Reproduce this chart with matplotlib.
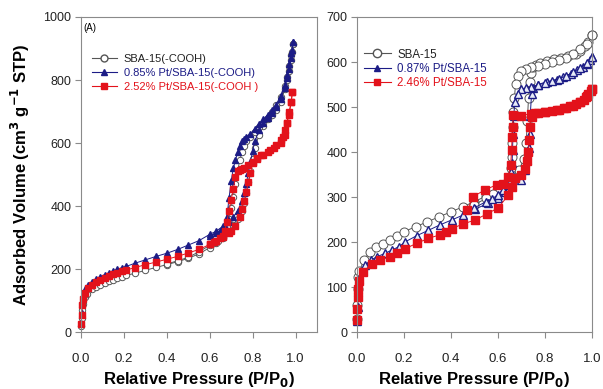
import numpy as np
import matplotlib
matplotlib.use('Agg')
import matplotlib.pyplot as plt
from matplotlib.lines import Line2D

plt.rcParams['font.family'] = ['Liberation Sans', 'DejaVu Sans']

# panel A : SBA-15(-COOH) series
a_circ_ads_x = [0.001,0.003,0.006,0.01,0.02,0.03,0.05,0.07,0.09,0.11,0.13,0.15,0.17,0.19,0.21,0.25,0.30,0.35,0.40,0.45,0.50,0.55,0.60,0.63,0.66,0.69,0.71,0.73,0.75,0.76,0.77,0.78,0.79,0.80,0.81,0.83,0.85,0.87,0.89,0.91,0.93,0.95,0.96,0.97,0.98,0.985,0.99]
a_circ_ads_y = [20,45,70,90,110,122,135,143,150,156,161,166,171,176,180,186,196,205,214,223,234,248,268,283,300,322,340,360,385,410,440,475,510,550,585,625,655,675,690,705,730,770,800,830,865,890,915]
a_circ_des_x = [0.99,0.98,0.97,0.96,0.95,0.93,0.91,0.89,0.87,0.85,0.83,0.81,0.79,0.77,0.76,0.75,0.74,0.73,0.72,0.71,0.70,0.69,0.68,0.67,0.66,0.64,0.62,0.60,0.55,0.50,0.45,0.40]
a_circ_des_y = [915,880,845,810,780,745,720,700,680,665,650,635,620,605,590,570,545,510,470,430,395,360,335,315,302,290,282,275,255,237,226,216]

a_tri_ads_x = [0.001,0.003,0.006,0.01,0.02,0.034,0.05,0.07,0.09,0.11,0.13,0.15,0.17,0.19,0.21,0.25,0.30,0.35,0.40,0.45,0.50,0.55,0.60,0.63,0.66,0.69,0.71,0.73,0.75,0.76,0.77,0.78,0.79,0.80,0.81,0.83,0.85,0.87,0.89,0.91,0.93,0.95,0.96,0.97,0.98,0.985,0.99]
a_tri_ads_y = [30,60,90,115,135,149,160,168,176,182,188,194,199,204,208,218,229,240,250,262,276,290,310,320,335,350,365,385,415,440,470,505,540,575,605,640,665,680,695,715,740,775,805,835,870,895,920]
a_tri_des_x = [0.99,0.98,0.97,0.96,0.95,0.93,0.91,0.89,0.87,0.85,0.83,0.81,0.79,0.77,0.76,0.75,0.74,0.73,0.72,0.71,0.70,0.69,0.68,0.67,0.65,0.63,0.60]
a_tri_des_y = [920,885,850,815,785,750,722,705,690,675,660,645,630,618,612,605,590,570,545,520,480,425,365,335,322,314,306]

a_sq_ads_x = [0.001,0.003,0.006,0.01,0.02,0.034,0.05,0.07,0.09,0.11,0.13,0.15,0.17,0.19,0.21,0.25,0.30,0.35,0.40,0.45,0.50,0.55,0.60,0.63,0.66,0.69,0.70,0.72,0.74,0.75,0.76,0.77,0.78,0.79,0.80,0.82,0.85,0.88,0.91,0.93,0.94,0.95,0.96,0.97,0.98,0.985]
a_sq_ads_y = [25,55,85,105,125,140,150,158,166,172,178,183,188,193,197,204,214,222,231,240,251,262,278,290,302,315,322,335,365,390,415,445,475,505,535,550,562,578,595,608,618,640,665,690,730,763]
a_sq_des_x = [0.985,0.98,0.97,0.96,0.95,0.93,0.90,0.87,0.84,0.82,0.80,0.78,0.76,0.75,0.74,0.73,0.72,0.71,0.70,0.69,0.68,0.67,0.66,0.65,0.62,0.60]
a_sq_des_y = [763,730,700,665,625,600,585,573,562,552,540,530,522,518,514,512,492,455,420,385,350,322,306,298,285,278]

# panel B : SBA-15 series
b_circ_ads_x = [0.001,0.002,0.004,0.006,0.01,0.03,0.055,0.08,0.11,0.14,0.17,0.20,0.25,0.30,0.35,0.40,0.45,0.50,0.55,0.60,0.65,0.69,0.71,0.72,0.725,0.73,0.735,0.74,0.75,0.76,0.78,0.81,0.84,0.87,0.90,0.93,0.95,0.97,0.985,1.0]
b_circ_ads_y = [30,60,95,123,135,160,178,188,196,205,214,223,234,245,256,267,278,290,302,318,338,360,385,420,470,520,555,575,588,594,598,602,606,609,613,618,625,635,645,660]
b_circ_des_x = [1.0,0.98,0.95,0.92,0.89,0.86,0.83,0.80,0.77,0.74,0.72,0.70,0.685,0.675,0.67,0.665,0.662,0.66,0.658,0.655,0.645,0.63,0.61,0.58,0.55,0.50]
b_circ_des_y = [660,640,628,617,610,605,600,596,592,588,585,580,570,552,520,490,455,420,390,365,345,330,318,306,297,283]

b_tri_ads_x = [0.001,0.003,0.006,0.01,0.034,0.06,0.084,0.12,0.148,0.18,0.204,0.254,0.304,0.353,0.403,0.452,0.502,0.559,0.601,0.63,0.658,0.70,0.715,0.725,0.73,0.735,0.737,0.743,0.75,0.77,0.807,0.85,0.878,0.91,0.935,0.96,0.977,0.99,1.0]
b_tri_ads_y = [25,55,90,118,149,160,167,175,182,190,200,214,226,238,249,260,273,286,297,312,327,338,360,382,410,440,480,528,542,550,556,561,567,574,582,590,596,605,612]
b_tri_des_x = [1.0,0.98,0.95,0.92,0.89,0.86,0.83,0.80,0.77,0.74,0.72,0.70,0.685,0.672,0.667,0.664,0.662,0.66,0.657,0.65,0.637,0.62,0.60,0.575,0.55,0.50]
b_tri_des_y = [612,598,587,577,569,563,558,553,549,545,542,540,530,512,480,440,405,375,355,340,326,315,305,296,290,276]

b_sq_ads_x = [0.001,0.002,0.004,0.006,0.01,0.027,0.063,0.10,0.14,0.17,0.204,0.254,0.303,0.353,0.38,0.403,0.452,0.502,0.552,0.601,0.644,0.658,0.672,0.70,0.715,0.722,0.729,0.733,0.736,0.743,0.757,0.80,0.85,0.88,0.906,0.93,0.95,0.965,0.975,0.985,0.995,1.0]
b_sq_ads_y = [26,52,78,95,113,134,152,160,167,175,185,197,208,216,223,230,240,249,262,276,304,323,342,350,363,380,400,427,456,478,486,489,494,497,502,507,512,516,522,528,536,540]
b_sq_des_x = [1.0,0.98,0.95,0.92,0.89,0.86,0.83,0.80,0.77,0.74,0.70,0.665,0.663,0.66,0.658,0.654,0.644,0.623,0.594,0.545,0.495,0.47]
b_sq_des_y = [540,524,511,503,498,494,491,489,487,485,481,482,456,433,404,371,345,330,327,316,301,272]

labels_a = ['SBA-15(-COOH)', '0.85% Pt/SBA-15(-COOH)', '2.52% Pt/SBA-15(-COOH )']
labels_b = ['SBA-15', '0.87% Pt/SBA-15', '2.46% Pt/SBA-15']

navy = '#1c1c86'
red = '#e3121b'
grey = '#555555'

fig = plt.figure(figsize=(6.03, 3.89), dpi=100)
ax1 = fig.add_axes([0.1343, 0.1465, 0.3914, 0.8098])
ax2 = fig.add_axes([0.592, 0.1465, 0.3897, 0.8098])

# left panel
ms = 4.6
for x, y in [(a_circ_ads_x, a_circ_ads_y), (a_circ_des_x, a_circ_des_y)]:
    ax1.plot(x, y, color=grey, lw=0.7, marker='o', ms=ms, mfc='white', mec=grey, mew=0.7, clip_on=False)
for x, y in [(a_tri_ads_x, a_tri_ads_y), (a_tri_des_x, a_tri_des_y)]:
    ax1.plot(x, y, color=navy, lw=0.7, marker='^', ms=ms, mfc=navy, mec=navy, clip_on=False)
for x, y in [(a_sq_ads_x, a_sq_ads_y), (a_sq_des_x, a_sq_des_y)]:
    ax1.plot(x, y, color=red, lw=0.7, marker='s', ms=ms - 0.4, mfc=red, mec=red, clip_on=False)

# right panel
for x, y in [(b_circ_ads_x, b_circ_ads_y), (b_circ_des_x, b_circ_des_y)]:
    ax2.plot(x, y, color=grey, lw=0.7, marker='o', ms=6.5, mfc='white', mec=grey, mew=0.7, clip_on=False)
for x, y in [(b_tri_ads_x, b_tri_ads_y), (b_tri_des_x, b_tri_des_y)]:
    ax2.plot(x, y, color=navy, lw=0.7, marker='^', ms=5.5, mfc='#e8ecf8', mec=navy, mew=1.0, clip_on=False)
for x, y in [(b_sq_ads_x, b_sq_ads_y), (b_sq_des_x, b_sq_des_y)]:
    ax2.plot(x, y, color=red, lw=0.7, marker='s', ms=5.5, mfc=red, mec=red, clip_on=False)

ax1.set_xlim(0, 1.1)
ax1.set_ylim(0, 1000)
ax1.set_xticks([0.0, 0.2, 0.4, 0.6, 0.8, 1.0])
ax1.set_yticks([0, 200, 400, 600, 800, 1000])
ax2.set_xlim(0, 1.0)
ax2.set_ylim(0, 700)
ax2.set_xticks([0.0, 0.2, 0.4, 0.6, 0.8, 1.0])
ax2.set_yticks([0, 100, 200, 300, 400, 500, 600, 700])

for ax in (ax1, ax2):
    for s in ax.spines.values():
        s.set_color('#8a8a8a')
        s.set_linewidth(0.8)
    ax.tick_params(direction='out', length=4, width=0.8, color='#8a8a8a', labelsize=9, labelcolor='#222222', pad=3)
    ax.tick_params(axis='x', pad=11, labelsize=9.5)
    ax.xaxis.set_major_formatter(plt.FormatStrFormatter('%.1f'))
    ax.set_xlabel('Relative Pressure (P/P$_\\mathbf{0}$)', fontsize=12, fontweight='bold', labelpad=4)

ax1.set_ylabel('Adsorbed Volume (cm$^\\mathbf{3}$ g$^\\mathbf{-1}$ STP)', fontsize=12, fontweight='bold', labelpad=8)
ax1.text(0.012, 0.965, '(A)', transform=ax1.transAxes, fontsize=7, va='center', ha='left')

h_a = [Line2D([], [], color=grey, lw=0.8, marker='o', ms=5, mfc='white', mec=grey),
       Line2D([], [], color=navy, lw=0.8, marker='^', ms=5, mfc=navy, mec=navy),
       Line2D([], [], color=red, lw=0.8, marker='s', ms=4.5, mfc=red, mec=red)]
h_b = [Line2D([], [], color=grey, lw=0.8, marker='o', ms=6, mfc='white', mec=grey),
       Line2D([], [], color=navy, lw=0.8, marker='^', ms=5, mfc=navy, mec=navy),
       Line2D([], [], color=red, lw=0.8, marker='s', ms=5, mfc=red, mec=red)]

ax1.legend(h_a, labels_a, loc='upper left', bbox_to_anchor=(0.045, 0.884), frameon=False, fontsize=8,
           labelcolor=['#222222', navy, red], handlelength=2.3, handletextpad=0.6, labelspacing=0.38,
           borderpad=0, borderaxespad=0, numpoints=1)
ax2.legend(h_b, labels_b, loc='upper left', bbox_to_anchor=(0.03, 0.9), frameon=False, fontsize=8.3,
           labelcolor=['#222222', navy, red], handlelength=2.3, handletextpad=0.6, labelspacing=0.2,
           borderpad=0, borderaxespad=0, numpoints=1)

plt.savefig('out.png', dpi=100)
